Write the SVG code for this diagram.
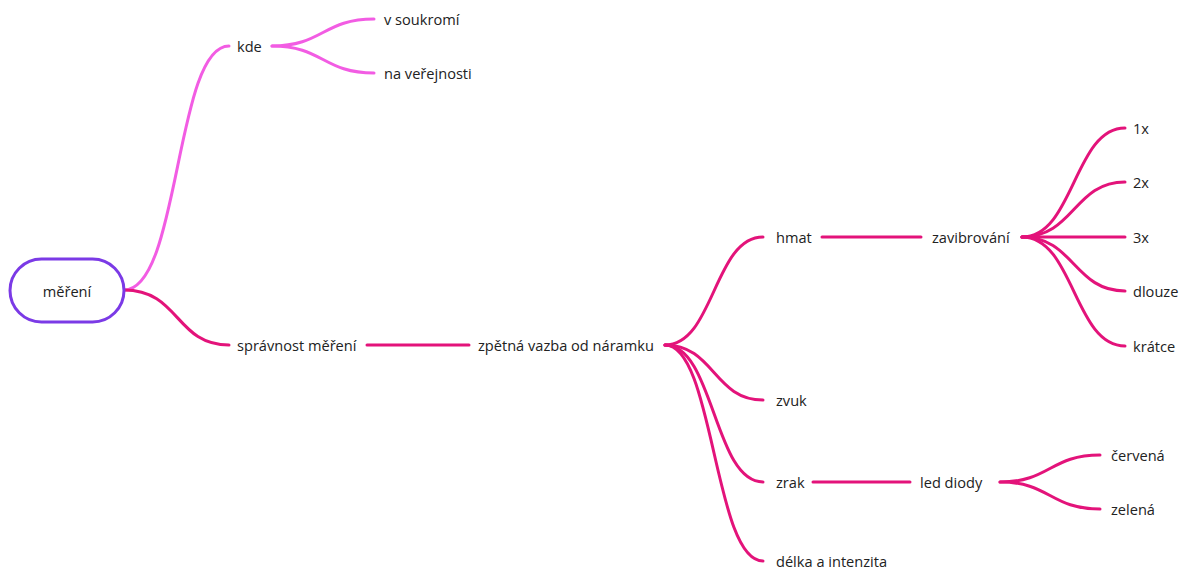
<svg xmlns="http://www.w3.org/2000/svg" width="1187" height="569" viewBox="0 0 1187 569">
<style>
text{font-family:"Open Sans","Noto Sans",sans-serif;font-size:14.6px;fill:#222;dominant-baseline:central}
.c{fill:none;stroke-width:3;stroke-linecap:round}
.p{stroke:#f25ce3}
.m{stroke:#e3137a}
</style>
<rect width="1187" height="569" fill="#fff"/>
<g id="connectors">
<path class="c p" d="M124 290 C180 290,175 46,229 46"/>
<path class="c m" d="M124 290 C180 290,175 345,229 345"/>
<path class="c p" d="M272 46 C323 46,323 19,374 19"/>
<path class="c p" d="M272 46 C323 46,323 73,374 73"/>
<path class="c m" d="M367 345 L469 345"/>
<path class="c m" d="M665 345 C714 345,714 237,763 237"/>
<path class="c m" d="M665 345 C714 345,714 400,763 400"/>
<path class="c m" d="M665 345 C714 345,714 482,763 482"/>
<path class="c m" d="M665 345 C714 345,714 561,763 561"/>
<path class="c m" d="M822 237 L921 237"/>
<path class="c m" d="M1022 237 C1074 237,1074 128,1125 128"/>
<path class="c m" d="M1022 237 C1074 237,1074 182,1125 182"/>
<path class="c m" d="M1022 237 L1125 237"/>
<path class="c m" d="M1022 237 C1074 237,1074 291,1125 291"/>
<path class="c m" d="M1022 237 C1074 237,1074 346,1125 346"/>
<path class="c m" d="M813 482 L910 482"/>
<path class="c m" d="M1000 482 C1050 482,1050 455,1100 455"/>
<path class="c m" d="M1000 482 C1050 482,1050 509,1100 509"/>
</g>
<g id="root"><rect x="10" y="259" width="114" height="63" rx="31.5" fill="#fff" stroke="#7b3ae6" stroke-width="3"/><text x="67" y="291" text-anchor="middle">měření</text></g>
<g id="kde"><text x="237" y="46">kde</text></g>
<g id="soukromi"><text x="384" y="19">v soukromí</text></g>
<g id="verejnosti"><text x="384" y="73">na veřejnosti</text></g>
<g id="spravnost"><text x="237" y="345">správnost měření</text></g>
<g id="zpetna"><text x="478" y="345">zpětná vazba od náramku</text></g>
<g id="hmat"><text x="776" y="237">hmat</text></g>
<g id="zavibrovani"><text x="932" y="237">zavibrování</text></g>
<g id="n1x"><text x="1133" y="128">1x</text></g>
<g id="n2x"><text x="1133" y="182">2x</text></g>
<g id="n3x"><text x="1133" y="237">3x</text></g>
<g id="dlouze"><text x="1133" y="291">dlouze</text></g>
<g id="kratce"><text x="1133" y="346">krátce</text></g>
<g id="zvuk"><text x="776" y="400">zvuk</text></g>
<g id="zrak"><text x="776" y="482">zrak</text></g>
<g id="led"><text x="920" y="482">led diody</text></g>
<g id="cervena"><text x="1111" y="455">červená</text></g>
<g id="zelena"><text x="1111" y="509">zelená</text></g>
<g id="delka"><text x="776" y="561">délka a intenzita</text></g>
</svg>
